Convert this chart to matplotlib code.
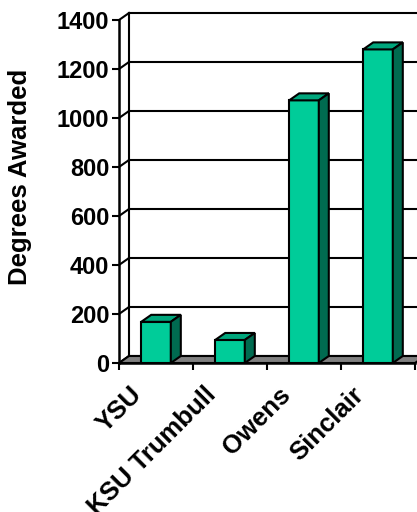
import numpy as np
import matplotlib.pyplot as plt
import matplotlib.transforms as mtransforms
from matplotlib.patches import Polygon

plt.rcParams['font.family'] = ['Liberation Sans', 'DejaVu Sans']
plt.rcParams['font.weight'] = 'bold'

# data
schools = ["YSU", "KSU Trumbull", "Owens", "Sinclair"]
degrees = [168, 94, 1072, 1280]
yticks = [0, 200, 400, 600, 800, 1000, 1200, 1400]

FACE = "#00CC99"
TOP = "#00A67C"
SIDE = "#006B50"
FLOOR = "#808080"
DX, DY = 10, 7   # depth offset in pixels

W, H = 417, 512
fig = plt.figure(figsize=(W / 100, H / 100), dpi=100)
ax = fig.add_axes([119 / W, 1 - 363 / H, 296 / W, 343 / H])
ax.set_xlim(0, len(schools))
ax.set_ylim(0, 1400)
for s in ["top", "right"]:
    ax.spines[s].set_visible(False)
for s in ["left", "bottom"]:
    ax.spines[s].set_linewidth(1.8)
ax.patch.set_visible(False)

# pixel depth offset expressed in data units
p0 = ax.transData.transform((0, 0))
dxd, dyd = ax.transData.inverted().transform(p0 + np.array([DX, DY]))
n = len(schools)

# floor
ax.add_patch(Polygon([(0, 0), (n, 0), (n + dxd, dyd), (dxd, dyd)], closed=True,
                     facecolor=FLOOR, edgecolor="black", lw=1.5, clip_on=False, zorder=1))

# back wall and side wall gridlines
for t in yticks:
    ax.plot([dxd, n + dxd], [t + dyd, t + dyd], color="black", lw=1.5,
            clip_on=False, zorder=0.5)
    ax.plot([0, dxd], [t, t + dyd], color="black", lw=1.5, clip_on=False, zorder=0.5)
ax.plot([dxd, dxd], [dyd, 1400 + dyd], color="black", lw=1.5, clip_on=False, zorder=0.5)

# 3D bars
centers = np.arange(n) + 0.5
bw = 0.4
ax.bar(centers, degrees, width=bw, color=FACE, edgecolor="black", lw=1.5, zorder=3)
for c, h in zip(centers, degrees):
    x0, x1 = c - bw / 2, c + bw / 2
    ax.add_patch(Polygon([(x0, h), (x1, h), (x1 + dxd, h + dyd), (x0 + dxd, h + dyd)],
                         closed=True, facecolor=TOP, edgecolor="black", lw=1.5,
                         clip_on=False, zorder=3))
    ax.add_patch(Polygon([(x1, 0), (x1 + dxd, dyd), (x1 + dxd, h + dyd), (x1, h)],
                         closed=True, facecolor=SIDE, edgecolor="black", lw=1.5,
                         clip_on=False, zorder=3))

# axes ticks
ax.set_yticks(yticks)
ax.set_yticklabels([str(t) for t in yticks], fontsize=17, fontweight="bold")
ax.tick_params(axis="y", length=5, width=1.5, pad=2)
ax.set_xticks(range(n + 1))
ax.set_xticklabels([""] * (n + 1))
ax.tick_params(axis="x", which="major", length=5, width=1.5)
ax.set_xticks(centers, minor=True)
ax.set_xticklabels(schools, minor=True, rotation=45, ha="right", va="top",
                   rotation_mode="anchor", fontsize=18.5, fontweight="bold")
ax.tick_params(axis="x", which="minor", length=0, pad=6)
shift = mtransforms.ScaledTranslation(-26 / 100, -11 / 100, fig.dpi_scale_trans)
for lab in ax.get_xticklabels(minor=True):
    lab.set_transform(lab.get_transform() + shift)

fig.text(20 / W, 1 - 177 / H, "Degrees Awarded", rotation=90, ha="center", va="center",
         fontsize=18.5, fontweight="bold")

fig.savefig("out.png", dpi=100)
